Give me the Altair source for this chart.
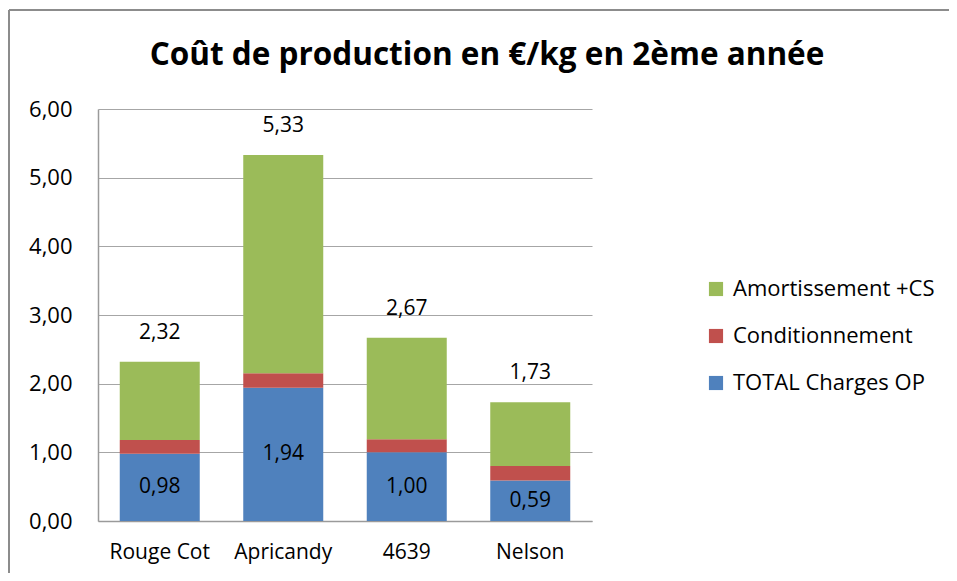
import altair as alt
import pandas as pd

categories = ["Rouge Cot", "Apricandy", "4639", "Nelson"]
charges_op = [0.98, 1.94, 1.00, 0.59]
conditionnement = [0.20, 0.21, 0.19, 0.21]
amortissement = [1.14, 3.18, 1.48, 0.93]
totals = [2.32, 5.33, 2.67, 1.73]

series_names = ["TOTAL Charges OP", "Conditionnement", "Amortissement +CS"]
series_colors = ["#4F81BD", "#C0504D", "#9BBB59"]
y_ticks = [0, 1, 2, 3, 4, 5, 6]
title_text = "Coût de production en €/kg en 2ème année"

FONT = "Open Sans"

rows = []
for i, c in enumerate(categories):
    for k, (name, vals) in enumerate(zip(series_names, [charges_op, conditionnement, amortissement])):
        rows.append({"cat": c, "serie": name, "val": vals[i], "ord": k})
long_df = pd.DataFrame(rows)
wide_df = pd.DataFrame({"cat": categories, "op": charges_op, "total": totals})

x_enc = alt.X("cat:N", sort=categories, title=None,
              scale=alt.Scale(paddingInner=0.35, paddingOuter=0.175),
              axis=alt.Axis(labelAngle=0, labelFontSize=21, labelFont=FONT, labelColor="#000",
                            labelPadding=20, ticks=False, domainColor="#9a9a9a", domainWidth=1.5))

bars = alt.Chart(long_df).mark_bar(size=80).encode(
    x=x_enc,
    y=alt.Y("val:Q", stack="zero", title=None,
            scale=alt.Scale(domain=[0, 6], nice=False),
            axis=alt.Axis(values=y_ticks, labelExpr="replace(format(datum.value, '.2f'), '.', ',')",
                          labelFontSize=22, labelFont=FONT, labelColor="#000", labelPadding=26,
                          ticks=False, domainColor="#9a9a9a", domainWidth=1.5,
                          gridColor="#a6a6a6", gridWidth=1.2)),
    color=alt.Color("serie:N",
                    scale=alt.Scale(domain=series_names[::-1], range=series_colors[::-1]),
                    legend=alt.Legend(title=None, orient="none", legendX=607, legendY=169,
                                      symbolType="square", symbolSize=200, symbolStrokeWidth=0,
                                      labelFontSize=22, labelFont=FONT, labelColor="#000",
                                      labelLimit=400, rowPadding=25, labelOffset=6)),
    order=alt.Order("ord:Q", sort="ascending"),
)

op_text = alt.Chart(wide_df).transform_calculate(
    mid="datum.op / 2",
    lab="replace(format(datum.op, '.2f'), '.', ',')",
).mark_text(fontSize=21, font=FONT, color="#000", baseline="middle").encode(
    x=alt.X("cat:N", sort=categories),
    y=alt.Y("mid:Q"),
    text="lab:N",
)

tot_text = alt.Chart(wide_df).transform_calculate(
    lab="replace(format(datum.total, '.2f'), '.', ',')",
).mark_text(fontSize=21, font=FONT, color="#000", baseline="alphabetic", dy=-23).encode(
    x=alt.X("cat:N", sort=categories),
    y=alt.Y("total:Q"),
    text="lab:N",
)

title_df = pd.DataFrame({"t": [title_text]})
title_mark = alt.Chart(title_df).mark_text(
    fontSize=31.5, font=FONT, fontWeight="bold", color="#000", align="center", baseline="middle"
).encode(x=alt.value(389), y=alt.value(-53), text="t:N")

one = pd.DataFrame({"a": [0]})
border_left = alt.Chart(one).mark_rule(color="#8c8c8c", strokeWidth=2).encode(
    x=alt.value(-89), y=alt.value(-99), y2=alt.value(470))
border_top = alt.Chart(one).mark_rule(color="#8c8c8c", strokeWidth=2).encode(
    x=alt.value(-89), x2=alt.value(860), y=alt.value(-99))

chart = alt.layer(bars, op_text, tot_text, title_mark, border_left, border_top).properties(
    width=494, height=412,
    autosize=alt.AutoSizeParams(type="none"),
    padding={"left": 90, "top": 101, "right": 357, "bottom": 52},
).configure_view(stroke=None).configure_axisY(grid=True).configure_axisX(grid=False)

chart.save("out.html", embed_options={"renderer": "svg", "actions": False})
